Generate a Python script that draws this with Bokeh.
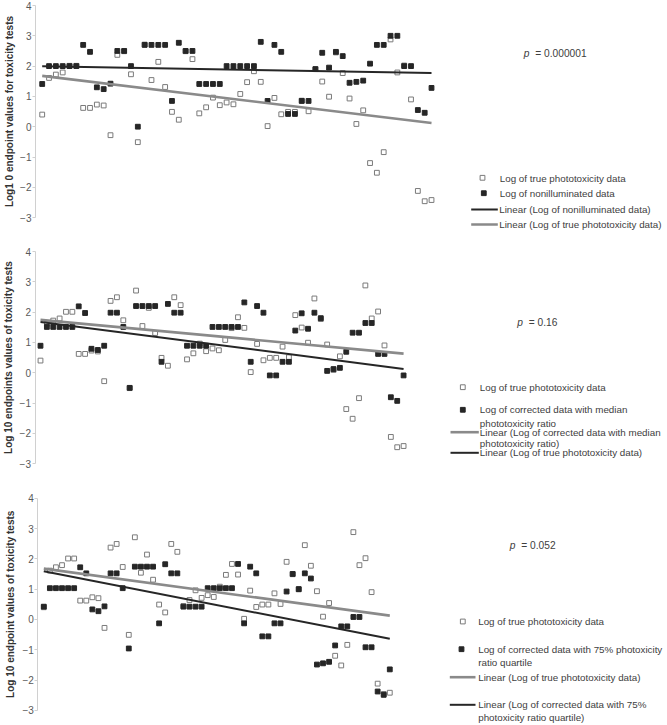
import numpy as np
from bokeh.plotting import figure
from bokeh.layouts import column
from bokeh.models import Range1d, FixedTicker
from bokeh.core.properties import value
from bokeh.embed import file_html
from bokeh.resources import INLINE

# ---------------- data ----------------
compound_index = list(range(58))

true_phototox = [0.40, 1.61, 1.72, 1.79, 2.01, 2.01, 0.62, 0.62, 0.73, 0.70,
                 -0.28, 2.37, 2.49, 1.73, -0.51, 2.71, 1.54, 2.14, 1.31, 0.49,
                 0.23, 2.49, 2.23, 0.44, 0.64, 0.96, 0.71, 0.80, 0.74, 1.08,
                 1.47, 1.83, 1.48, 0.02, 0.95, 0.41, 0.49, 0.49, 0.86, 0.51,
                 1.90, 1.49, 0.99, 2.45, 1.77, 0.93, 0.09, 0.54, -1.20, -1.52,
                 -0.84, 2.88, 1.79, 2.02, 0.90, -2.12, -2.46, -2.42]

nonilluminated = [1.41, 2.00, 2.00, 2.00, 2.00, 2.00, 2.70, 2.47, 1.30, 1.24,
                  1.42, 2.50, 2.50, 2.00, 0.00, 2.70, 2.70, 2.70, 2.70, 0.85,
                  2.77, 2.50, 2.50, 1.41, 1.41, 1.41, 1.41, 2.00, 2.00, 2.00,
                  2.00, 2.00, 2.80, 0.85, 2.70, 2.47, 0.42, 0.42, 0.85, 0.85,
                  1.90, 2.44, 1.95, 2.47, 2.33, 1.45, 1.48, 1.52, 2.08, 2.70,
                  2.70, 3.00, 3.00, 2.00, 2.00, 0.55, 0.46, 1.28]

corrected_median = [0.89, 1.51, 1.51, 1.51, 1.51, 1.51, 2.19, 1.97, 0.79, 0.75,
                    0.89, 1.98, 1.98, 1.51, -0.50, 2.20, 2.20, 2.20, 2.20, 0.36,
                    2.27, 1.98, 1.98, 0.89, 0.89, 0.89, 0.89, 1.51, 1.51, 1.51,
                    1.51, 1.51, 2.32, 0.36, 2.20, 1.98, -0.09, -0.09, 0.36, 0.36,
                    1.39, 1.96, 1.45, 1.98, 1.80, 0.06, 0.12, 0.16, 0.69, 1.32,
                    1.32, 1.64, 1.64, 0.62, 0.62, -0.81, -0.93, -0.09]

corrected_q75 = [0.42, 1.03, 1.03, 1.03, 1.03, 1.03, 1.72, 1.52, 0.33, 0.27,
                 0.43, 1.52, 1.52, 1.03, -0.96, 1.74, 1.74, 1.74, 1.74, -0.13,
                 1.82, 1.52, 1.52, 0.42, 0.42, 0.42, 0.42, 1.03, 1.03, 1.03,
                 1.03, 1.03, 1.83, -0.13, 1.74, 1.52, -0.56, -0.56, -0.13, -0.13,
                 0.92, 1.50, 1.00, 1.52, 1.35, -1.49, -1.45, -1.40, -0.86, -0.23,
                 -0.23, 0.08, 0.08, -0.92, -0.92, -2.38, -2.49, -1.65]

y_ticks = [-3, -2, -1, 0, 1, 2, 3, 4]

p_values = ["0.000001", "0.16", "0.052"]

y_titles = ["Log1 0 endpoint values for toxicity tests",
            "Log 10 endpoints values of toxicity tests",
            "Log 10 endpoint values of toxicity tests"]

# ---------------- layout / style ----------------
FONT = "Liberation Sans"
W = 667
U = 30.3          # px per unit
DARK = "#262626"
GRAY_LINE = "#8a8a8a"
OPEN_EDGE = "#7a7a7a"
TXT = "#404040"


def fit_line(xs, ys):
    k, b = np.polyfit(np.array(xs, float), np.array(ys, float), 1)
    x = [xs[0], xs[-1]]
    return x, [k * x[0] + b, k * x[1] + b]


def build(spec):
    H, top, y4 = spec["H"], spec["top"], spec["y4"]

    def rv(py):
        return 4 - (py - y4) / U

    y_start = rv(top + H)
    y_end = rv(top)
    x_start = -spec["p0"] / spec["step"]
    x_end = x_start + W / spec["step"]
    p = figure(width=W, height=H, x_range=Range1d(x_start, x_end),
               y_range=Range1d(y_start, y_end), output_backend="svg",
               toolbar_location=None, x_axis_location=None,
               min_border_left=0, min_border_right=0,
               min_border_top=0, min_border_bottom=0)
    p.extra_x_ranges = {"px": Range1d(0, W)}
    p.outline_line_color = None
    p.xgrid.visible = False
    p.ygrid.visible = False
    ax = p.yaxis[0]
    ax.fixed_location = (spec["axis_x"] - spec["p0"]) / spec["step"]
    ax.ticker = FixedTicker(ticks=y_ticks)
    ax.bounds = (-3, 4)
    ax.axis_line_color = "#d0d0d0"
    ax.major_tick_line_color = "#d0d0d0"
    ax.major_tick_out = 3
    ax.major_tick_in = 0
    ax.minor_tick_line_color = None
    ax.major_label_standoff = 1
    ax.major_label_text_font = FONT
    ax.major_label_text_font_size = "10px"
    ax.major_label_text_color = "#595959"

    # axis title
    p.text(x=[spec["title_x"]], y=[0.5], text=[spec["title"]], x_range_name="px",
           angle=np.pi / 2, text_align="center", text_baseline="middle",
           text_font=value(FONT), text_font_size="10px",
           text_font_style="bold", text_color="#333333")

    # data
    p.scatter(compound_index, true_phototox, marker="square", size=4.8,
              fill_color="white", line_color=OPEN_EDGE, line_width=1)
    p.scatter(compound_index, spec["black"], marker="square", size=4.8,
              fill_color=DARK, line_color=DARK, line_width=1)
    for series, color, lw in spec["fits"]:
        fx, fy = fit_line(compound_index, series)
        p.line(fx, fy, line_color=color, line_width=lw)

    # p value
    px_, py_ = spec["p_pos"]
    p.text(x=[px_], y=[rv(py_)], text=["p"], x_range_name="px",
           text_font=value(FONT), text_font_size="10.2px",
           text_font_style="italic", text_color=TXT,
           text_align="left", text_baseline="middle")
    p.text(x=[px_ + 11.5], y=[rv(py_)], text=["= " + spec["pval"]],
           x_range_name="px", text_font=value(FONT), text_font_size="10.2px",
           text_color=TXT, text_align="left", text_baseline="middle")

    # legend
    for kind, mx, my in spec["markers"]:
        fill = "white" if kind == "open" else DARK
        edge = OPEN_EDGE if kind == "open" else DARK
        p.scatter([mx], [rv(my)], x_range_name="px", marker="square",
                  size=4.8, fill_color=fill, line_color=edge, line_width=1)
    for color, lw, x0, x1, ly in spec["lines"]:
        p.line([x0, x1], [rv(ly)] * 2, x_range_name="px",
               line_color=color, line_width=lw)
    tx = [t[0] for t in spec["texts"]]
    ty = [rv(t[1]) for t in spec["texts"]]
    tt = [t[2] for t in spec["texts"]]
    p.text(x=tx, y=ty, text=tt, x_range_name="px", text_font=value(FONT),
           text_font_size="9.8px", text_color=TXT, text_align="left",
           text_baseline="middle")
    return p


panel1 = dict(
    H=246, top=0, y4=5.0, p0=41.7, step=6.83, axis_x=35.0,
    title=y_titles[0], title_x=8.5,
    black=nonilluminated,
    fits=[(nonilluminated, DARK, 2.0), (true_phototox, GRAY_LINE, 2.6)],
    pval=p_values[0], p_pos=(523.3, 52.7),
    markers=[("open", 482.0, 177.3), ("filled", 483.3, 192.7)],
    lines=[(DARK, 2.0, 470.7, 497.3, 209.0), (GRAY_LINE, 2.6, 470.7, 497.3, 224.0)],
    texts=[(499.3, 177.7, "Log of true phototoxicity data"),
           (499.3, 192.7, "Log of nonilluminated data"),
           (498.7, 209.0, "Linear (Log of nonilluminated data)"),
           (498.7, 224.0, "Linear (Log of true phototoxicity data)")],
)

panel2 = dict(
    H=246, top=246, y4=251.0, p0=40.0, step=6.37, axis_x=34.5,
    title=y_titles[1], title_x=8.0,
    black=corrected_median,
    fits=[(corrected_median, GRAY_LINE, 2.6), (true_phototox, DARK, 2.0)],
    pval=p_values[1], p_pos=(516.7, 321.7),
    markers=[("open", 462.3, 386.7), ("filled", 462.3, 409.3)],
    lines=[(GRAY_LINE, 2.6, 450.0, 478.3, 431.7), (DARK, 2.0, 450.0, 478.3, 452.3)],
    texts=[(479.3, 387.0, "Log of true phototoxicity data"),
           (479.3, 409.0, "Log of corrected data with median"),
           (479.3, 422.7, "phototoxicity ratio"),
           (479.3, 431.7, "Linear (Log of corrected data with median"),
           (479.3, 442.7, "phototoxicity ratio)"),
           (479.3, 452.3, "Linear (Log of true phototoxicity data)")],
)

panel3 = dict(
    H=233, top=492, y4=497.7, p0=43.3, step=6.07, axis_x=37.3,
    title=y_titles[2], title_x=10.0,
    black=corrected_q75,
    fits=[(true_phototox, GRAY_LINE, 2.6), (corrected_q75, DARK, 2.0)],
    pval=p_values[2], p_pos=(509.3, 545.0),
    markers=[("open", 462.3, 621.0), ("filled", 461.0, 648.7)],
    lines=[(GRAY_LINE, 2.6, 449.3, 475.0, 676.7), (DARK, 2.0, 449.3, 475.0, 704.3)],
    texts=[(477.7, 620.7, "Log of true phototoxicity data"),
           (477.7, 648.7, "Log of corrected data with 75% photoxicity"),
           (477.7, 661.7, "ratio quartile"),
           (477.7, 676.7, "Linear (Log of true phototoxicity data)"),
           (477.7, 704.3, "Linear (Log of corrected data with 75%"),
           (477.7, 717.3, "photoxicity ratio quartile)")],
)

layout = column(build(panel1), build(panel2), build(panel3), spacing=0)

with open("out.html", "w") as f:
    f.write(file_html(layout, INLINE))
